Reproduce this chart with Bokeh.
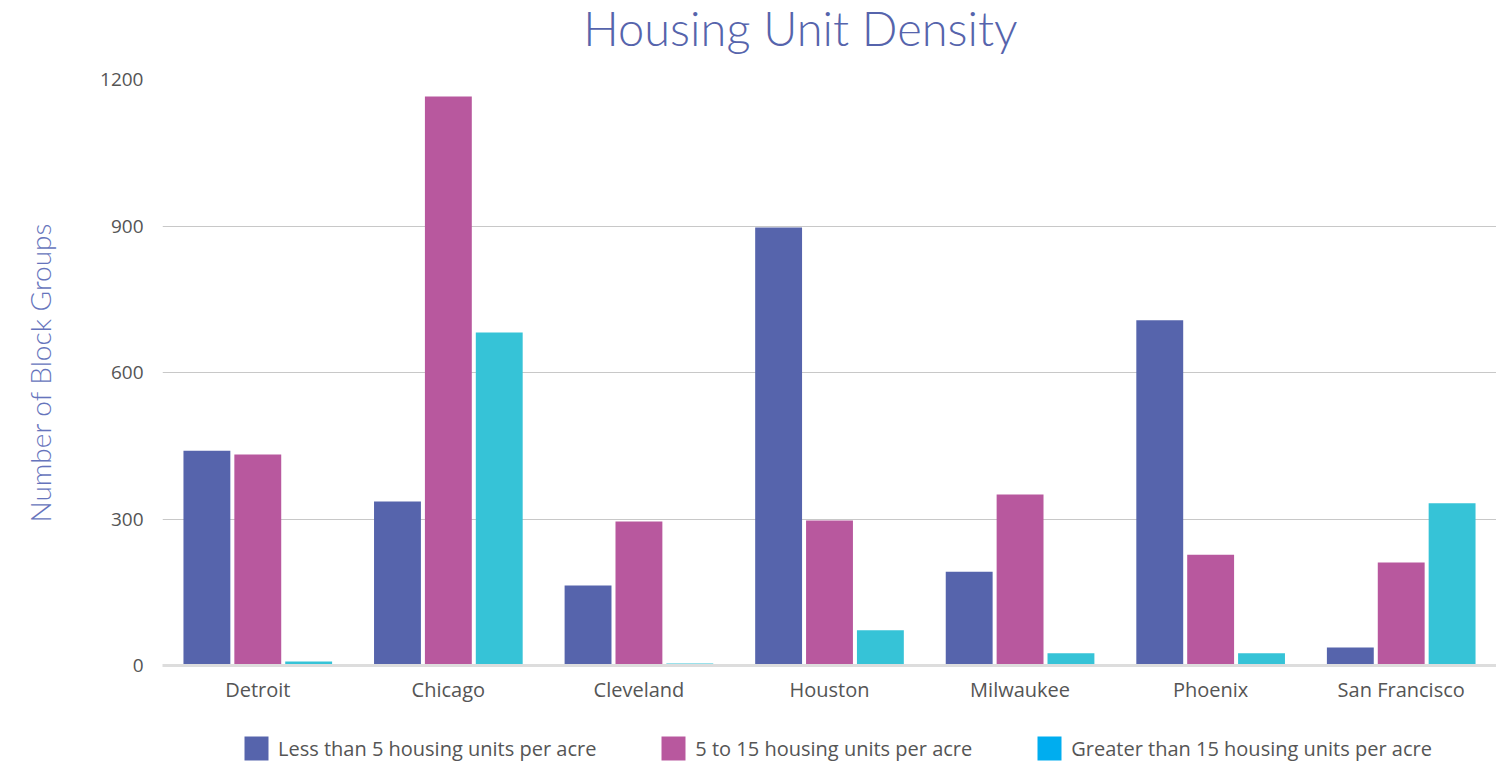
from bokeh.plotting import figure
from bokeh.layouts import column
from bokeh.models import FactorRange, Legend, LegendItem, FixedTicker, Range1d, Label
from bokeh.transform import dodge
from bokeh.embed import file_html
from bokeh.resources import INLINE

cities = ["Detroit", "Chicago", "Cleveland", "Houston", "Milwaukee", "Phoenix", "San Francisco"]
less_than_5 = [440, 336, 164, 897, 192, 707, 37]
five_to_15 = [432, 1165, 295, 297, 350, 227, 211]
greater_than_15 = [8, 682, 4, 72, 25, 25, 332]
series_names = ["Less than 5 housing units per acre",
                "5 to 15 housing units per acre",
                "Greater than 15 housing units per acre"]
bar_colors = ["#5664ac", "#b8589e", "#36c3d7"]
legend_colors = ["#5664ac", "#b8589e", "#00adef"]
y_ticks = [0, 300, 600, 900, 1200]
title_text = "Housing Unit Density"

FONT = "Open Sans"
LIGHT = "Lato Light"


def strip(height):
    f = figure(width=1496, height=height, output_backend="svg", toolbar_location=None,
               x_range=Range1d(0, 1), y_range=Range1d(0, 1),
               min_border_left=0, min_border_right=0, min_border_top=0, min_border_bottom=0,
               x_axis_type=None, y_axis_type=None)
    f.outline_line_color = None
    f.xgrid.visible = False
    f.ygrid.visible = False
    return f


# title strip
top = strip(67)
top.add_layout(Label(x=638, y=40, x_units="screen", y_units="screen", text=title_text,
                     text_font=LIGHT, text_font_size="47px", text_color="#5664ac",
                     text_align="center", text_baseline="alphabetic"))

# main chart
p = figure(x_range=FactorRange(factors=cities, range_padding=0), y_range=(0, 1200),
           width=1496, height=639, output_backend="svg", toolbar_location=None,
           min_border_left=162, min_border_right=0, min_border_top=12, min_border_bottom=41)
p.outline_line_color = None

data = dict(city=cities, a=less_than_5, b=five_to_15, c=greater_than_15)
offsets = [-0.267, 0.0, 0.267]
for key, off, col in zip(["a", "b", "c"], offsets, bar_colors):
    p.vbar(x=dodge("city", off, range=p.x_range), top=key, width=0.246, source=data,
           fill_color=col, line_color=None)

p.xgrid.grid_line_color = None
p.ygrid.grid_line_color = "#c8c8c8"
p.ygrid.grid_line_width = 1

p.yaxis.ticker = FixedTicker(ticks=y_ticks)
p.yaxis.axis_line_color = None
p.yaxis.major_tick_line_color = None
p.yaxis.minor_tick_line_color = None
p.yaxis.major_tick_out = 0
p.yaxis.major_tick_in = 0
p.yaxis.major_label_text_font = FONT
p.yaxis.major_label_text_font_size = "19px"
p.yaxis.major_label_text_color = "#555555"
p.yaxis.major_label_standoff = 19
p.yaxis.axis_label = "Number of Block Groups"
p.yaxis.axis_label_text_font = LIGHT
p.yaxis.axis_label_text_font_size = "28px"
p.yaxis.axis_label_text_font_style = "normal"
p.yaxis.axis_label_text_color = "#6674bc"
p.yaxis.axis_label_standoff = 40

p.xaxis.axis_line_color = "#dddddd"
p.xaxis.axis_line_width = 3
p.xaxis.major_tick_line_color = None
p.xaxis.minor_tick_line_color = None
p.xaxis.major_tick_out = 0
p.xaxis.major_tick_in = 0
p.xaxis.major_label_text_font = FONT
p.xaxis.major_label_text_font_size = "20px"
p.xaxis.major_label_text_color = "#555555"
p.xaxis.major_label_standoff = 10

# legend strip
lg = strip(57)
items = []
for name, col in zip(series_names, legend_colors):
    # placeholder bar outside the visible range; only its legend swatch shows
    r = lg.vbar(x=[50], top=[1], width=0.2, fill_color=col, line_color=None)
    items.append(LegendItem(label=name, renderers=[r]))

legend = Legend(items=items, orientation="horizontal", location=(79, 0),
                glyph_width=30, glyph_height=30, label_standoff=7, spacing=62,
                padding=0, margin=0, border_line_color=None, background_fill_alpha=0,
                label_text_font_size="20px", label_text_color="#555555", label_text_font=FONT)
lg.add_layout(legend, "center")

layout = column(top, p, lg, spacing=0)
open("out.html", "w").write(file_html(layout, INLINE))
